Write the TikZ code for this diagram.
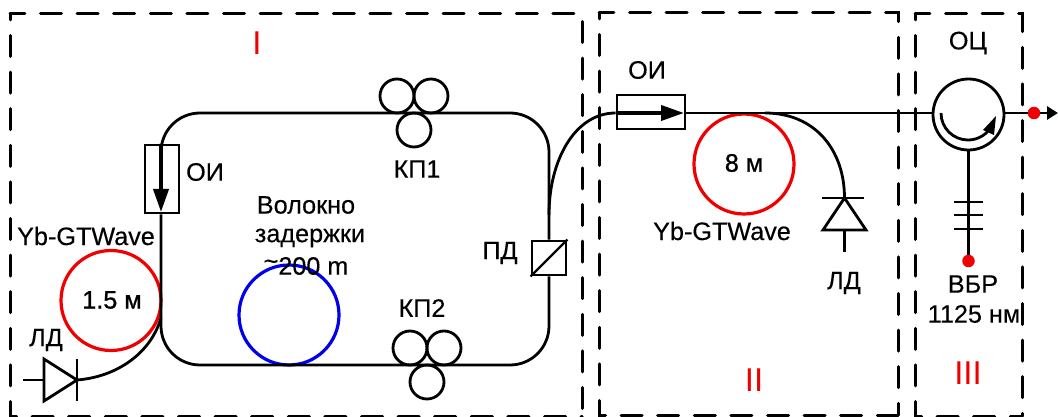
\documentclass[tikz,border=0pt]{standalone}
\usepackage{fontspec}
\setmainfont[FakeBold=0.3]{Liberation Sans}
\newfontfamily\heavyfont[FakeBold=1.0]{Liberation Sans}
\newfontfamily\redfont{Liberation Sans}
\usetikzlibrary{arrows.meta}
\definecolor{myred}{RGB}{240,0,0}
\definecolor{myblue}{RGB}{0,0,235}
\tikzset{
  x=1pt,y=-1pt,
  wire/.style={line width=2.8pt,black},
  frame/.style={line width=3pt,black,line cap=round},
  lbl/.style={inner sep=0pt,font=\fontsize{25.2}{28}\selectfont,text=black},
  hlbl/.style={inner sep=0pt,font=\heavyfont\fontsize{25.2}{28}\selectfont,text=black},
  rlbl/.style={inner sep=0pt,font=\redfont\fontsize{33}{36}\selectfont,text=myred},
  coil/.style={circle,draw,line width=3.2pt,inner sep=0pt,minimum size=100pt},
  pc/.style={circle,draw=black,line width=2.8pt,inner sep=0pt,minimum size=34pt},
  comp/.style={rectangle,draw=black,line width=2.8pt,inner sep=0pt},
  iso/.style={line width=3.8pt,-{Triangle[length=23pt,width=15pt]}},
  dot/.style={circle,fill=myred,inner sep=0pt,minimum size=12.5pt},
}
\begin{document}
\begin{tikzpicture}
\useasboundingbox (0,0) rectangle (1058,417);
% frames
\draw[frame,dash pattern=on 21pt off 15.6pt,dash phase=6.1pt] (10,14) -- (582,14) -- (582,416);
\draw[frame,dash pattern=on 21pt off 15.6pt,dash phase=15.1pt] (10,14) -- (10,416) -- (582,416);
\draw[frame,dash pattern=on 21pt off 15.6pt,dash phase=6.1pt] (599,13) -- (898,13) -- (898,415);
\draw[frame,dash pattern=on 21pt off 15.6pt,dash phase=15.1pt] (599,13) -- (599,415) -- (898,415);
\draw[frame,dash pattern=on 21pt off 15.6pt,dash phase=6.1pt] (915,14) -- (1022,14) -- (1022,416);
\draw[frame,dash pattern=on 21pt off 15.6pt,dash phase=15.1pt] (915,14) -- (915,416) -- (1022,416);
% components
\node[comp,minimum width=34pt,minimum height=68pt] (oia) at (162,179) {};
\node[comp,minimum width=34pt,minimum height=34pt] (pd) at (549,258) {};
\node[comp,minimum width=68pt,minimum height=34pt] (oib) at (651,112) {};
\node[coil,draw=myred] (yba) at (111,300.5) {};
\node[coil,draw=myred] (ybb) at (744,164) {};
\node[coil,draw=myblue] (delay) at (289,315) {};
\node[pc] (ka) at (397,96) {};
\node[pc] (kb) at (431,96) {};
\node[pc] (kc) at (414,130) {};
\node[pc] (kd) at (410,348) {};
\node[pc] (ke) at (444,348) {};
\node[pc] (kf) at (427,382) {};
\node[circle,draw=black,line width=2.8pt,inner sep=0pt,minimum size=71pt] (circ) at (968.5,114.5) {};
\node[dot] (dota) at (1034,113) {};
\node[dot] (dotb) at (968.5,261) {};
% diode coordinates
\coordinate (lda) at (77,380);
\coordinate (ldb) at (844.5,198);
\coordinate (outend) at (1058,113);
\coordinate (tl) at (161,113);
\coordinate (tr) at (549,113);
\coordinate (br) at (549,365);
\coordinate (bl) at (161,365);
% loop
\draw[wire,rounded corners=39pt] (oia.north -| tl) -- (tl) -- (tr) -- (pd.north);
\draw[wire,rounded corners=39pt] (pd.south) -- (br) -- (bl) -- (oia.south -| bl);
% pump and output fibres
\draw[wire] (lda) .. controls (115,377) and (150,355) .. (161,318);
\draw[wire] (549,215) .. controls (549,160) and (575,113) .. (oib.west |- tr);
\draw[wire] (oib.east |- tr) -- (circ.west |- tr);
\draw[wire] (765,113) .. controls (815,113) and (844.5,150) .. (ldb);
\draw[wire] (circ.east |- tr) -- (dota);
\draw[wire,-{Triangle[length=11pt,width=13pt]}] (dota) -- (outend);
\draw[wire] (circ.south) -- (dotb);
% isolators
\draw[iso] (oia.north) ++(-1,0) -- (161,212);
\draw[iso] (oib.west |- tr) -- (684,113);
% splitter diagonal
\draw[line width=2.4pt] (pd.south west) -- (pd.north east);
% diode 1
\draw[wire] (44,359) -- (44,401) -- (lda) -- cycle;
\draw[wire] (77,359) -- (77,401);
\draw[wire] (23,380) -- (44,380);
% diode 2
\draw[wire] (823,230) -- (866,230) -- (ldb) -- cycle;
\draw[wire] (822,198) -- (864,198);
\draw[wire] (844.5,230) -- (844.5,252);
% grating
\draw[wire] (954,202) -- (983,202);
\draw[wire] (954,215) -- (983,215);
\draw[wire] (954,229) -- (983,229);
% circulator arrow
\draw[wire] (941,113) arc[start angle=180,end angle=36,radius=27];
\fill[black] (996,116) -- (983,130) -- (994,135) -- cycle;
% labels
\node[lbl] (t1) at (205,172) {ОИ};
\node[lbl] (t2) at (86,236) {Yb-GTWave};
\node[hlbl] (t3) at (112,300) {1.5 м};
\node[lbl] (t4) at (46,340) {ЛД};
\node[lbl] (t5) at (306,205) {Волокно};
\node[lbl] (t6) at (310,238) {задержки};
\node[lbl] (t7) at (306,266) {\raisebox{0.2em}{\textasciitilde}200 m};
\node[lbl] (t8) at (417,169) {КП1};
\node[lbl] (t9) at (422,308) {КП2};
\node[lbl] (t10) at (500,253) {ПД};
\node[lbl] (t11) at (647,70) {ОИ};
\node[hlbl] (t12) at (744,163) {8 м};
\node[lbl] (t13) at (722,231) {Yb-GTWave};
\node[lbl] (t14) at (844,283) {ЛД};
\node[lbl] (t15) at (968,43) {ОЦ};
\node[lbl] (t16) at (973,284) {ВБР};
\node[lbl] (t17) at (974,314) {1125 нм};
\node[rlbl] (r1) at (257,43) {I};
\node[rlbl] (r2) at (754,380) {II};
\node[rlbl] (r3) at (968,373) {III};
\end{tikzpicture}
\end{document}
